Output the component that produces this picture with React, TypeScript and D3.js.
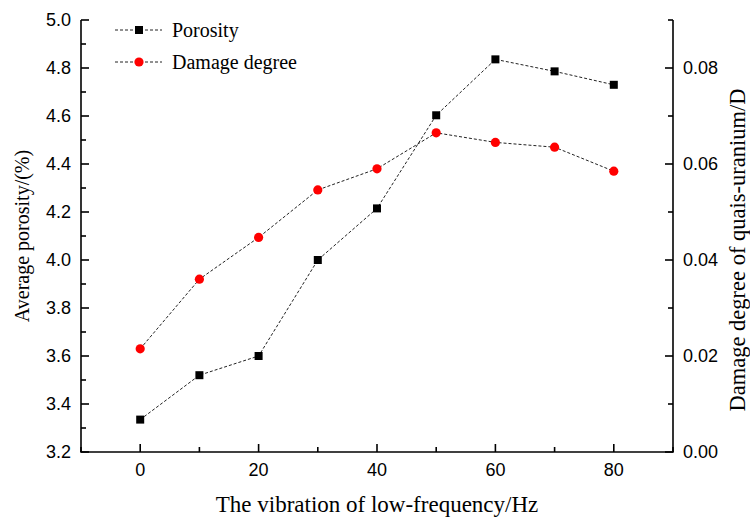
import React from "react";
import * as d3 from "d3";

const frequency = [0, 10, 20, 30, 40, 50, 60, 70, 80];
const porosity = [3.335, 3.52, 3.6, 4.0, 4.215, 4.603, 4.836, 4.786, 4.73];
const damage = [0.0215, 0.036, 0.0447, 0.0546, 0.059, 0.0665, 0.0645, 0.0635, 0.0585];
const xMajorTicks = [0, 20, 40, 60, 80];
const xMinorTicks = [-10, 10, 30, 50, 70, 90];
const leftMajorTicks = [3.2, 3.4, 3.6, 3.8, 4.0, 4.2, 4.4, 4.6, 4.8, 5.0];
const leftMinorTicks = [3.3, 3.5, 3.7, 3.9, 4.1, 4.3, 4.5, 4.7, 4.9];
const rightMajorTicks = [0, 0.02, 0.04, 0.06, 0.08];
const rightMinorTicks = [0.01, 0.03, 0.05, 0.07, 0.09];
const seriesNames = ["Porosity", "Damage degree"];
const xTitle = "The vibration of low-frequency/Hz";
const leftTitle = "Average porosity/(%)";
const rightTitle = "Damage degree of quais-uranium/D";

const W = 750;
const H = 517;
const L = 81;
const R = 673;
const T = 20;
const B = 452;

export default function App() {
  const x = d3.scaleLinear().domain([-10, 90]).range([L, R]);
  const yL = d3.scaleLinear().domain([3.2, 5.0]).range([B, T]);
  const yR = d3.scaleLinear().domain([0, 0.09]).range([B, T]);

  const lineP = d3
    .line<number>()
    .x((_, i) => x(frequency[i]))
    .y((d) => yL(d));
  const lineD = d3
    .line<number>()
    .x((_, i) => x(frequency[i]))
    .y((d) => yR(d));

  const tickFont = "'Liberation Sans', Arial, sans-serif";
  const titleFont = "'Liberation Serif', 'Times New Roman', serif";
  const axisStroke = 1.6;
  const major = 8;
  const minor = 5;

  return (
    <svg width={W} height={H} style={{ position: "absolute", left: 0, top: 0, background: "#fff" }}>
      {/* series lines */}
      <path d={lineP(porosity) || ""} fill="none" stroke="#222" strokeWidth={1} strokeDasharray="3,2" />
      <path d={lineD(damage) || ""} fill="none" stroke="#222" strokeWidth={1} strokeDasharray="3,2" />
      {porosity.map((v, i) => (
        <rect key={"p" + i} x={x(frequency[i]) - 4} y={yL(v) - 4} width={8} height={8} fill="#000" />
      ))}
      {damage.map((v, i) => (
        <circle key={"d" + i} cx={x(frequency[i])} cy={yR(v)} r={4.6} fill="#ff0000" />
      ))}

      {/* axes lines */}
      <line x1={L} x2={L} y1={T} y2={B} stroke="#000" strokeWidth={axisStroke} />
      <line x1={R} x2={R} y1={T} y2={B} stroke="#000" strokeWidth={axisStroke} />
      <line x1={L - 0.8} x2={R + 0.8} y1={B} y2={B} stroke="#000" strokeWidth={axisStroke} />

      {/* left ticks */}
      {leftMajorTicks.map((t) => (
        <g key={"lm" + t}>
          <line x1={L} x2={L + major} y1={yL(t)} y2={yL(t)} stroke="#000" strokeWidth={axisStroke} />
          <text x={L - 10} y={yL(t)} dy="0.35em" textAnchor="end" fontFamily={tickFont} fontSize={18}>
            {t.toFixed(1)}
          </text>
        </g>
      ))}
      {leftMinorTicks.map((t) => (
        <line key={"ln" + t} x1={L} x2={L + minor} y1={yL(t)} y2={yL(t)} stroke="#000" strokeWidth={axisStroke} />
      ))}

      {/* right ticks */}
      {rightMajorTicks.map((t) => (
        <g key={"rm" + t}>
          <line x1={R} x2={R - major} y1={yR(t)} y2={yR(t)} stroke="#000" strokeWidth={axisStroke} />
          <text x={R + 10} y={yR(t)} dy="0.35em" textAnchor="start" fontFamily={tickFont} fontSize={18}>
            {t.toFixed(2)}
          </text>
        </g>
      ))}
      {rightMinorTicks.map((t) => (
        <line key={"rn" + t} x1={R} x2={R - minor} y1={yR(t)} y2={yR(t)} stroke="#000" strokeWidth={axisStroke} />
      ))}

      {/* bottom ticks */}
      {xMajorTicks.map((t) => (
        <g key={"xm" + t}>
          <line x1={x(t)} x2={x(t)} y1={B} y2={B - major} stroke="#000" strokeWidth={axisStroke} />
          <text x={x(t)} y={B + 18} dy="0.35em" textAnchor="middle" fontFamily={tickFont} fontSize={18}>
            {t}
          </text>
        </g>
      ))}
      {xMinorTicks.map((t) => (
        <line key={"xn" + t} x1={x(t)} x2={x(t)} y1={B} y2={B - minor} stroke="#000" strokeWidth={axisStroke} />
      ))}

      {/* titles */}
      <text x={377} y={512} textAnchor="middle" fontFamily={titleFont} fontSize={23}>
        {xTitle}
      </text>
      <text
        transform={`translate(29, 236) rotate(-90)`}
        textAnchor="middle"
        fontFamily={titleFont}
        fontSize={20}
      >
        {leftTitle}
      </text>
      <text
        transform={`translate(745, 250) rotate(-90)`}
        textAnchor="middle"
        fontFamily={titleFont}
        fontSize={22.5}
      >
        {rightTitle}
      </text>

      {/* legend */}
      <g>
        <line x1={115} x2={162} y1={30} y2={30} stroke="#222" strokeWidth={1} strokeDasharray="3,2" />
        <rect x={135} y={26} width={8} height={8} fill="#000" />
        <text x={172} y={30} dy="0.33em" fontFamily={titleFont} fontSize={20}>
          {seriesNames[0]}
        </text>
        <line x1={115} x2={162} y1={62} y2={62} stroke="#222" strokeWidth={1} strokeDasharray="3,2" />
        <circle cx={139} cy={62} r={4.6} fill="#ff0000" />
        <text x={172} y={62} dy="0.33em" fontFamily={titleFont} fontSize={20}>
          {seriesNames[1]}
        </text>
      </g>
    </svg>
  );
}
